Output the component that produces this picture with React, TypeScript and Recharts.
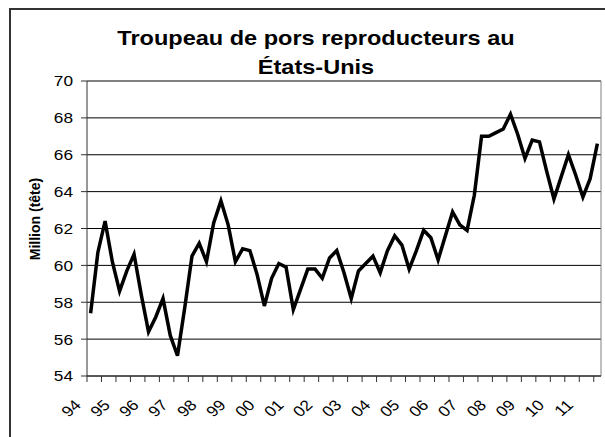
import { CartesianGrid, Line, LineChart, ReferenceLine, XAxis, YAxis } from "recharts";

// years shown on the category axis (one label every 4 quarters)
const years = ["94", "95", "96", "97", "98", "99", "00", "01", "02", "03", "04", "05", "06", "07", "08", "09", "10", "11"];

// breeding herd, million head, quarterly from 94 Q1
const herd = [
  57.4, 60.7, 62.4, 60.2, 58.6, 59.7, 60.6, 58.4, 56.4, 57.2, 58.2, 56.2,
  55.1, 57.7, 60.5, 61.2, 60.2, 62.3, 63.5, 62.2, 60.2, 60.9, 60.8, 59.5,
  57.8, 59.3, 60.1, 59.9, 57.6, 58.7, 59.8, 59.8, 59.3, 60.4, 60.8, 59.6,
  58.2, 59.7, 60.1, 60.5, 59.6, 60.8, 61.6, 61.1, 59.8, 60.8, 61.9, 61.5,
  60.3, 61.6, 62.9, 62.2, 61.9, 63.8, 67.0, 67.0, 67.2, 67.4, 68.2, 67.1,
  65.8, 66.8, 66.7, 65.1, 63.6, 64.8, 66.0, 64.9, 63.7, 64.7, 66.6,
];

const yTicks = [54, 56, 58, 60, 62, 64, 66, 68, 70];

const rows = herd.map((value, idx) => ({ idx, value }));
// tick marks sit on category edges, every second category
const xTicks = herd.map((_, i) => i - 0.5).filter((_, i) => i % 2 === 0);

const font = "Arial, 'Liberation Sans', sans-serif";

function YTick({ x, y, payload }: any) {
  return (
    <text
      transform={`translate(${x},${y}) scale(1.15,1)`}
      textAnchor="end"
      dy="0.36em"
      fontSize={15}
      fontFamily={font}
      fill="#000"
    >
      {payload.value}
    </text>
  );
}

function XTick({ x, y, payload }: any) {
  const k = Math.round(payload.value + 0.5);
  if (k % 4 !== 0) return <g />;
  return (
    <text
      transform={`translate(${x - 5},${y + 22}) scale(1.15,1) rotate(-45)`}
      textAnchor="end"
      fontSize={15}
      fontFamily={font}
      fill="#000"
    >
      {years[k / 4]}
    </text>
  );
}

export default function App() {
  return (
    <div
      style={{
        position: "absolute",
        left: 0,
        top: 0,
        width: 605,
        height: 437,
        overflow: "hidden",
        background: "#fff",
        fontFamily: font,
      }}
    >
      <div
        style={{
          position: "absolute",
          left: 9,
          top: 8,
          width: 700,
          height: 700,
          border: "2px solid #333",
          boxSizing: "border-box",
        }}
      />
      <div
        style={{
          position: "absolute",
          left: 66,
          top: 23,
          width: 500,
          textAlign: "center",
          fontSize: 21,
          lineHeight: "29px",
          fontWeight: "bold",
          transform: "scaleX(1.12)",
          whiteSpace: "nowrap",
        }}
      >
        Troupeau de pors reproducteurs au
        <br />
        États-Unis
      </div>
      <div
        style={{
          position: "absolute",
          left: 35,
          top: 219,
          fontSize: 14,
          fontWeight: "bold",
          whiteSpace: "nowrap",
          transform: "translate(-50%,-50%) rotate(-90deg)",
        }}
      >
        Million (tête)
      </div>
      <div style={{ position: "absolute", left: 0, top: 0 }}>
        <LineChart width={605} height={437} data={rows} margin={{ top: 81, right: 4, bottom: 0, left: 0 }}>
          <CartesianGrid vertical={false} stroke="#000" />
          <XAxis
            dataKey="idx"
            type="number"
            domain={[-0.5, herd.length - 0.5]}
            ticks={xTicks}
            interval={0}
            height={61}
            tickSize={6}
            axisLine={{ stroke: "#333" }}
            tickLine={{ stroke: "#333" }}
            tick={<XTick />}
          />
          <YAxis
            type="number"
            domain={[54, 70]}
            ticks={yTicks}
            interval={0}
            width={87}
            tickSize={6}
            tickMargin={8}
            axisLine={{ stroke: "#333" }}
            tickLine={{ stroke: "#333" }}
            tick={<YTick />}
          />
          <ReferenceLine y={70} stroke="#808080" />
          <ReferenceLine x={herd.length - 0.5} stroke="#808080" />
          <Line
            type="linear"
            dataKey="value"
            stroke="#000"
            strokeWidth={3.5}
            dot={false}
            isAnimationActive={false}
          />
        </LineChart>
      </div>
    </div>
  );
}
